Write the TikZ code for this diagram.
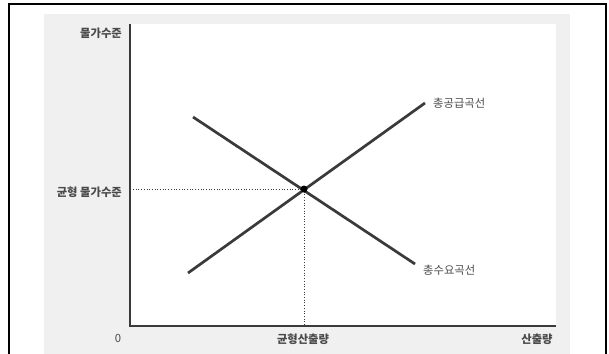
\documentclass[tikz,border=0pt]{standalone}
\usepackage{fontspec}
\newfontfamily\kr{Noto Sans CJK KR}
\definecolor{panel}{HTML}{F0F0F0}
\definecolor{curve}{HTML}{3A3A3A}
\definecolor{txt}{HTML}{4A4A4A}
\begin{document}
\begin{tikzpicture}[x=1pt,y=-1pt,
  lbl/.style={inner sep=0pt,font=\kr\bfseries\fontsize{11.3}{13}\selectfont,text=txt},
  clbl/.style={inner sep=0pt,font=\kr\fontsize{11.3}{13}\selectfont,text=txt},
  curveline/.style={draw=curve,line width=2.7pt},
  axisline/.style={draw=curve,line width=1.1pt},
  guide/.style={draw=curve,line width=0.7pt,dotted}]
\useasboundingbox (0,0) rectangle (609,353);
\begin{scope}
\clip (0,0) rectangle (609,353);
\draw[black,line width=1.6pt] (9,4) rectangle (606,370);
\fill[panel] (44,14) rectangle (570,370);
\fill[white] (130,24) rectangle (556,326);
\end{scope}
% axes
\coordinate (O) at (130,326);
\coordinate (ytop) at (130,24);
\coordinate (xend) at (556,326);
\draw[axisline] (ytop) -- (O) -- (xend);
% curves
\coordinate (E) at (304,189);
\coordinate (s1) at (188,273);
\coordinate (s2) at (425,103);
\coordinate (d1) at (193,117);
\coordinate (d2) at (415,264);
\coordinate (ey) at (133,189);
\coordinate (ex) at (304,326);
\draw[guide] (ey) -- (E);
\draw[guide] (E) -- (ex);
\draw[curveline] (s1) -- (s2);
\draw[curveline] (d1) -- (d2);
\fill[black] (E) circle (3.5pt);
% labels
\node[lbl,anchor=east] (py) at (122,33) {물가수준};
\node[lbl,anchor=east] (pe) at (122,192) {균형 물가수준};
\node[clbl] (zero) at (118,338) {0};
\node[lbl] (qe) at (303,339) {균형산출량};
\node[lbl] (qx) at (537,339) {산출량};
\node[clbl,anchor=west] (as) at (433,103) {총공급곡선};
\node[clbl,anchor=west] (ad) at (423,270) {총수요곡선};
\end{tikzpicture}
\end{document}
